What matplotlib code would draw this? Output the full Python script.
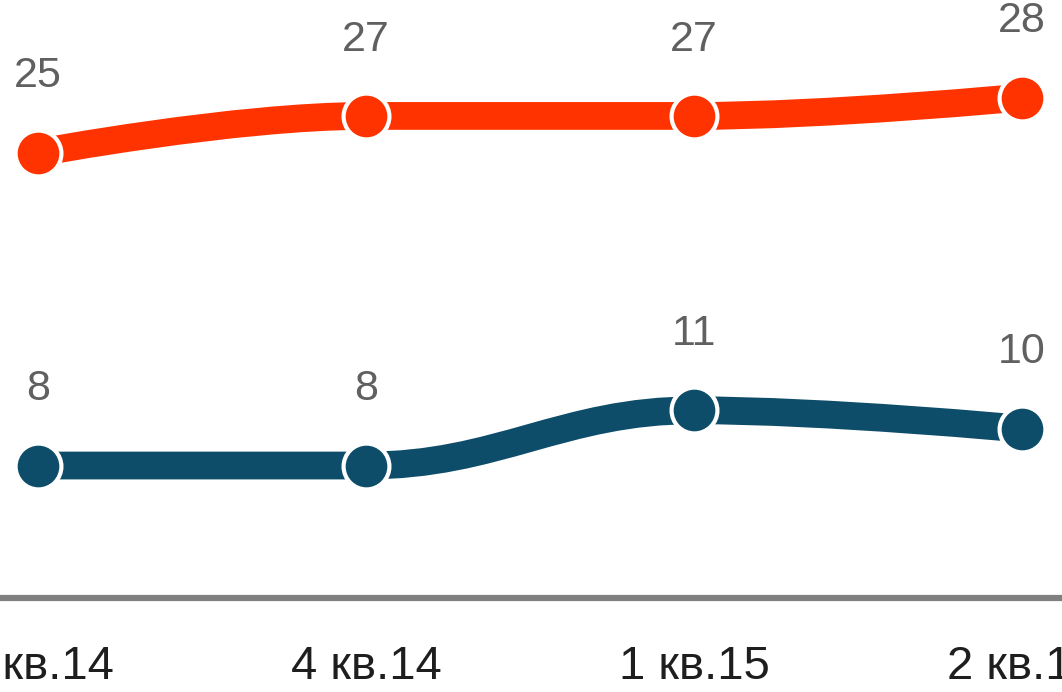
import matplotlib
matplotlib.use("Agg")
import matplotlib.pyplot as plt
from matplotlib.path import Path
from matplotlib.patches import PathPatch

# данные по кварталам
quarters = ["3 кв.14", "4 кв.14", "1 кв.15", "2 кв.15"]
series_red = [25, 27, 27, 28]
series_blue = [8, 8, 11, 10]

RED = "#ff3300"
BLUE = "#0e4d6a"

plt.rcParams['font.family'] = ['Liberation Sans', 'DejaVu Sans']


def spline_path(xs, ys, smoothing=1.5):
    # сглаживание как у spline в Highcharts
    denom = smoothing + 1
    n = len(xs)
    left = [(xs[i], ys[i]) for i in range(n)]
    right = [(xs[i], ys[i]) for i in range(n)]
    for i in range(1, n - 1):
        px, py = xs[i], ys[i]
        lx, ly = xs[i - 1], ys[i - 1]
        nx, ny = xs[i + 1], ys[i + 1]
        lcx = (smoothing * px + lx) / denom
        lcy = (smoothing * py + ly) / denom
        rcx = (smoothing * px + nx) / denom
        rcy = (smoothing * py + ny) / denom
        corr = 0
        if rcx != lcx:
            corr = (rcy - lcy) * (rcx - px) / (rcx - lcx) + py - rcy
        lcy += corr
        rcy += corr
        if lcy > ly and lcy > py:
            lcy = max(ly, py)
            rcy = 2 * py - lcy
        elif lcy < ly and lcy < py:
            lcy = min(ly, py)
            rcy = 2 * py - lcy
        if rcy > ny and rcy > py:
            rcy = max(ny, py)
            lcy = 2 * py - rcy
        elif rcy < ny and rcy < py:
            rcy = min(ny, py)
            lcy = 2 * py - rcy
        left[i] = (lcx, lcy)
        right[i] = (rcx, rcy)
    verts = [(xs[0], ys[0])]
    codes = [Path.MOVETO]
    for i in range(1, n):
        verts += [right[i - 1], left[i], (xs[i], ys[i])]
        codes += [Path.CURVE4] * 3
    return Path(verts, codes)


fig = plt.figure(figsize=(10.62, 6.92), dpi=100)
ax = fig.add_axes([0, 94 / 692, 1, 598 / 692])

x = list(range(len(quarters)))
for vals, col in [(series_red, RED), (series_blue, BLUE)]:
    patch = PathPatch(spline_path(x, vals), facecolor='none', edgecolor=col,
                      linewidth=20, capstyle='round', joinstyle='round', zorder=2)
    ax.add_patch(patch)
    ax.plot(x, vals, linestyle='none', marker='o', markersize=33,
            markerfacecolor=col, markeredgecolor='white', markeredgewidth=3, zorder=3)
    for xi, v in zip(x, vals):
        ax.annotate(str(v), (xi, v), xytext=(0, 47), textcoords='offset points',
                    ha='center', va='baseline', fontsize=31, color='#606060')

ax.set_xlim(-38 / 328, 3 + 40 / 328)
ax.set_ylim(0.8, 33.3)
ax.set_xticks(x)
ax.set_xticklabels(quarters, fontsize=34, color='#1e1e1e')
ax.tick_params(axis='x', length=0, pad=34)
ax.set_yticks([])
for s in ['top', 'left', 'right']:
    ax.spines[s].set_visible(False)
ax.spines['bottom'].set_color('#808080')
ax.spines['bottom'].set_linewidth(4.5)
ax.patch.set_alpha(0)

fig.savefig("out.png", dpi=100)
